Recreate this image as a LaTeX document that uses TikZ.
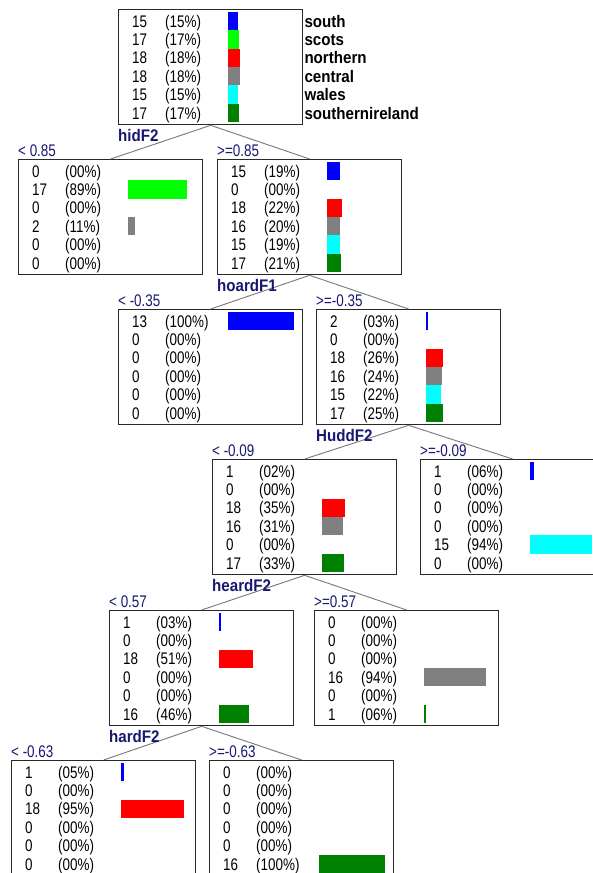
\documentclass[tikz,border=0pt]{standalone}
\usepackage{fontspec}
\usetikzlibrary{calc}
\newfontfamily\cellfont[FakeStretch=0.8]{Liberation Sans}
\newfontfamily\headfont[FakeStretch=0.9]{Liberation Sans}
\definecolor{navy}{RGB}{24,24,112}
\definecolor{boxline}{RGB}{40,40,40}
\definecolor{linkgray}{RGB}{120,120,120}
\definecolor{cblue}{RGB}{0,0,255}
\definecolor{cgreen}{RGB}{0,255,0}
\definecolor{cred}{RGB}{255,0,0}
\definecolor{cgray}{RGB}{128,128,128}
\definecolor{ccyan}{RGB}{0,255,255}
\definecolor{cdkgreen}{RGB}{0,128,0}
\tikzset{
  cell/.style={font=\cellfont\fontsize{16.8}{18}\selectfont, inner sep=0pt, anchor=base west},
  classlabel/.style={font=\headfont\bfseries\fontsize{16.8}{18}\selectfont, inner sep=0pt, anchor=base west},
  splitlabel/.style={font=\headfont\bfseries\fontsize{16.8}{18}\selectfont, text=navy, inner sep=0pt, anchor=base west},
  threshold/.style={font=\cellfont\fontsize{16.8}{18}\selectfont, text=navy, inner sep=0pt, anchor=base west},
  databox/.style={draw=boxline, line width=1.3pt, minimum width=184pt, minimum height=115pt, inner sep=0pt, anchor=north west},
  link/.style={draw=linkgray, line width=0.9pt},
}
% rows of a class-count box: count/percent/colour/bar length (0 = no bar)
\newcommand\fillbox[2]{%
  \foreach \cnt/\pct/\col/\bw [count=\r] in {#2}{
    \node[cell] (#1-n\r) at ($(#1.north west)+(14,{12+(\r-1)*18.4+6})$) {\cnt};
    \node[cell] (#1-p\r) at ($(#1.north west)+(47,{12+(\r-1)*18.4+6})$) {(\pct\%)};
    \ifdim\bw pt>0pt
      \fill[\col] ($(#1.north west)+(110,{12+(\r-1)*18.4-9.2})$) rectangle ++(\bw,18.4);
    \fi
  }}
\begin{document}
\begin{tikzpicture}[x=1pt,y=-1pt]
\useasboundingbox[fill=white] (0,0) rectangle (592,873);

% boxes
\node[databox] (root) at (118,9) {};
\node[databox] (a) at (18,159) {};
\node[databox] (b) at (217,159) {};
\node[databox] (c) at (118,309) {};
\node[databox] (d) at (316,309) {};
\node[databox] (e) at (212,459) {};
\node[databox] (f) at (420,459) {};
\node[databox] (g) at (109,610) {};
\node[databox] (h) at (314,610) {};
\node[databox] (i) at (11,760) {};
\node[databox] (j) at (209,760) {};

% branches
\draw[link] (root.south) -- (a.north);
\draw[link] (root.south) -- (b.north);
\draw[link] (b.south) -- (c.north);
\draw[link] (b.south) -- (d.north);
\draw[link] (d.south) -- (e.north);
\draw[link] (d.south) -- (f.north);
\draw[link] (e.south) -- (g.north);
\draw[link] (e.south) -- (h.north);
\draw[link] (g.south) -- (i.north);
\draw[link] (g.south) -- (j.north);

% contents
\fillbox{root}{15/15/cblue/10, 17/17/cgreen/11.2, 18/18/cred/11.9, 18/18/cgray/11.9, 15/15/ccyan/10, 17/17/cdkgreen/11.2}
\fillbox{a}{0/00/cblue/0, 17/89/cgreen/58.7, 0/00/cred/0, 2/11/cgray/6.5, 0/00/ccyan/0, 0/00/cdkgreen/0}
\fillbox{b}{15/19/cblue/12.5, 0/00/cgreen/0, 18/22/cred/14.5, 16/20/cgray/13.2, 15/19/ccyan/12.5, 17/21/cdkgreen/13.9}
\fillbox{c}{13/100/cblue/66, 0/00/cgreen/0, 0/00/cred/0, 0/00/cgray/0, 0/00/ccyan/0, 0/00/cdkgreen/0}
\fillbox{d}{2/03/cblue/1.5, 0/00/cgreen/0, 18/26/cred/17.2, 16/24/cgray/15.8, 15/22/ccyan/14.5, 17/25/cdkgreen/16.5}
\fillbox{e}{1/02/cblue/0, 0/00/cgreen/0, 18/35/cred/23.1, 16/31/cgray/20.5, 0/00/ccyan/0, 17/33/cdkgreen/21.8}
\fillbox{f}{1/06/cblue/4, 0/00/cgreen/0, 0/00/cred/0, 0/00/cgray/0, 15/94/ccyan/62, 0/00/cdkgreen/0}
\fillbox{g}{1/03/cblue/1.5, 0/00/cgreen/0, 18/51/cred/33.7, 0/00/cgray/0, 0/00/ccyan/0, 16/46/cdkgreen/30.4}
\fillbox{h}{0/00/cblue/0, 0/00/cgreen/0, 0/00/cred/0, 16/94/cgray/62, 0/00/ccyan/0, 1/06/cdkgreen/2}
\fillbox{i}{1/05/cblue/3.3, 0/00/cgreen/0, 18/95/cred/62.7, 0/00/cgray/0, 0/00/ccyan/0, 0/00/cdkgreen/0}
\fillbox{j}{0/00/cblue/0, 0/00/cgreen/0, 0/00/cred/0, 0/00/cgray/0, 0/00/ccyan/0, 16/100/cdkgreen/66}

% class names
\foreach \cls [count=\r] in {south, scots, northern, central, wales, southernireland}
  \node[classlabel] (cls\r) at ($(root.north east)+(1,{12+(\r-1)*18.4+6})$) {\cls};

% split attributes
\node[splitlabel] (s1) at ($(root.south west)+(0,16)$) {hidF2};
\node[splitlabel] (s2) at ($(b.south west)+(0,16)$) {hoardF1};
\node[splitlabel] (s3) at ($(d.south west)+(0,16)$) {HuddF2};
\node[splitlabel] (s4) at ($(e.south west)+(0,16)$) {heardF2};
\node[splitlabel] (s5) at ($(g.south west)+(0,16)$) {hardF2};

% thresholds
\node[threshold] (t1) at ($(a.north west)+(0,-3)$) {< 0.85};
\node[threshold] (t2) at ($(b.north west)+(0,-3)$) {>=0.85};
\node[threshold] (t3) at ($(c.north west)+(0,-3)$) {< -0.35};
\node[threshold] (t4) at ($(d.north west)+(0,-3)$) {>=-0.35};
\node[threshold] (t5) at ($(e.north west)+(0,-3)$) {< -0.09};
\node[threshold] (t6) at ($(f.north west)+(0,-3)$) {>=-0.09};
\node[threshold] (t7) at ($(g.north west)+(0,-3)$) {< 0.57};
\node[threshold] (t8) at ($(h.north west)+(0,-3)$) {>=0.57};
\node[threshold] (t9) at ($(i.north west)+(0,-3)$) {< -0.63};
\node[threshold] (t10) at ($(j.north west)+(0,-3)$) {>=-0.63};
\end{tikzpicture}
\end{document}
